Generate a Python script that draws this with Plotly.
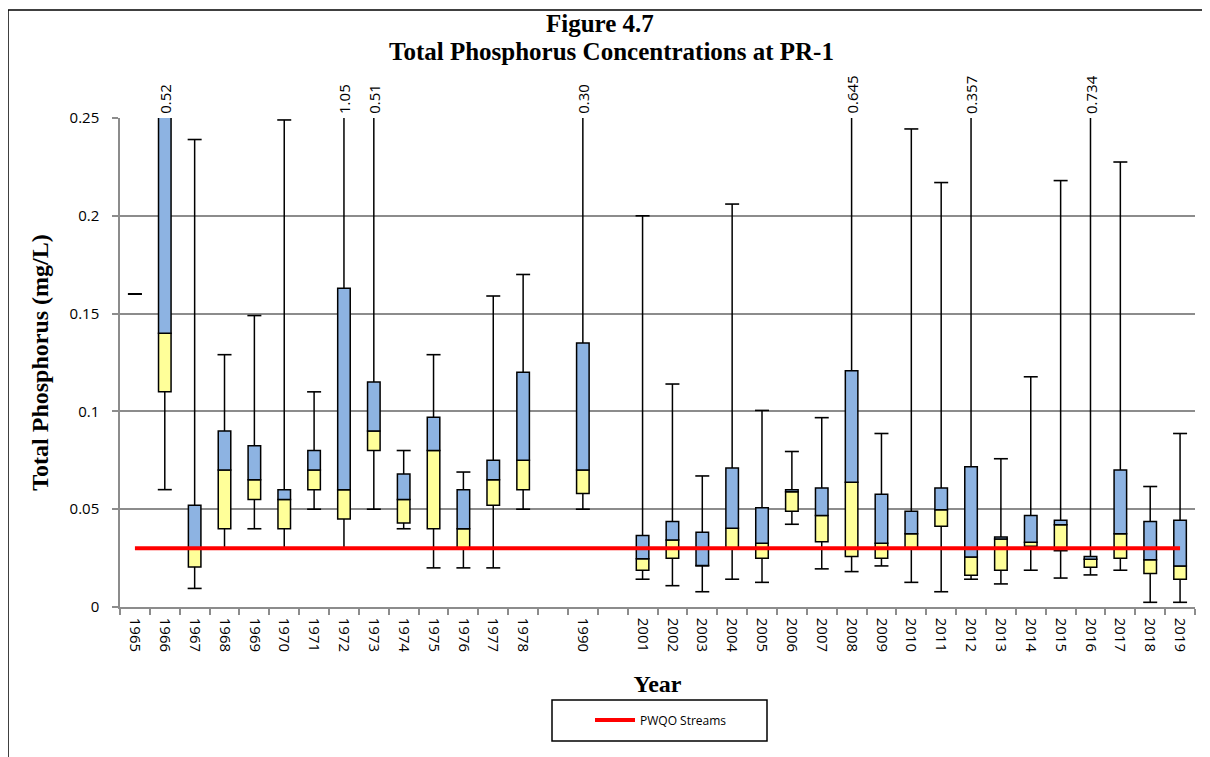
import plotly.graph_objects as go

# ---------------- data ----------------
years = ["1965", "1966", "1967", "1968", "1969", "1970", "1971", "1972", "1973",
         "1974", "1975", "1976", "1977", "1978", "1990",
         "2001", "2002", "2003", "2004", "2005", "2006", "2007", "2008", "2009",
         "2010", "2011", "2012", "2013", "2014", "2015", "2016", "2017", "2018", "2019"]
gap_after = ["1978", "1990"]  # one empty category follows each of these

mins = [0.160, 0.060, 0.0095, 0.030, 0.040, 0.030, 0.050, 0.030, 0.050,
        0.040, 0.020, 0.020, 0.020, 0.050, 0.050,
        0.0142, 0.0109, 0.0078, 0.0142, 0.0126, 0.0423, 0.0195, 0.0181, 0.0210,
        0.0126, 0.0078, 0.0142, 0.0118, 0.0188, 0.0148, 0.0164, 0.0188, 0.0024, 0.0024]
q1s = [0.160, 0.110, 0.0205, 0.040, 0.055, 0.040, 0.060, 0.045, 0.080,
       0.043, 0.040, 0.030, 0.052, 0.060, 0.058,
       0.0188, 0.0249, 0.0210, 0.0300, 0.0249, 0.0490, 0.0334, 0.0258, 0.0249,
       0.0300, 0.0413, 0.0162, 0.0188, 0.0310, 0.0288, 0.0203, 0.0249, 0.0171, 0.0142]
medians = [0.160, 0.140, 0.030, 0.070, 0.065, 0.055, 0.070, 0.060, 0.090,
           0.055, 0.080, 0.040, 0.065, 0.075, 0.070,
           0.0247, 0.0343, 0.0212, 0.0403, 0.0326, 0.0589, 0.0468, 0.0638, 0.0326,
           0.0375, 0.0497, 0.0256, 0.0348, 0.0331, 0.0421, 0.0244, 0.0375, 0.0241, 0.0210]
q3s = [0.160, 0.260, 0.052, 0.090, 0.0825, 0.060, 0.080, 0.163, 0.115,
       0.068, 0.097, 0.060, 0.075, 0.120, 0.135,
       0.0365, 0.0437, 0.0382, 0.0710, 0.0507, 0.0600, 0.0609, 0.1208, 0.0577,
       0.0490, 0.0609, 0.0717, 0.0358, 0.0468, 0.0444, 0.0258, 0.0701, 0.0437, 0.0444]
maxs = [0.160, 0.52, 0.239, 0.129, 0.149, 0.249, 0.110, 1.05, 0.51,
        0.080, 0.129, 0.069, 0.159, 0.170, 0.30,
        0.200, 0.114, 0.067, 0.206, 0.1005, 0.0795, 0.0968, 0.645, 0.0887,
        0.2444, 0.217, 0.357, 0.0758, 0.1177, 0.218, 0.734, 0.2275, 0.0616, 0.0887]
# labels printed above the chart for maxima beyond the axis range
over_labels = {"1966": "0.52", "1972": "1.05", "1973": "0.51", "1990": "0.30",
               "2008": "0.645", "2012": "0.357", "2016": "0.734"}

pwqo_value = 0.03
y_max = 0.25
y_ticks = [0, 0.05, 0.1, 0.15, 0.2, 0.25]
y_ticktext = ["0", "0.05", "0.1", "0.15", "0.2", "0.25"]

# ---------------- category positions ----------------
pos = []
i = 0
for yr in years:
    pos.append(i)
    i += 1
    if yr in gap_after:
        i += 1
n_slots = i
boundaries = [k - 0.5 for k in range(n_slots + 1)]

BLUE = "#8DB3E2"
YELLOW = "#FFFF99"
BOX_W = 0.42


# helpers mapping reference-pixel layout positions to paper coordinates
def px(X):
    return (X - 120) / 1075


def py(Y):
    return (607 - Y) / 489


fig = go.Figure()

# whiskers
wx, wy = [], []
for p, mn, a, c, mx in zip(pos, mins, q1s, q3s, maxs):
    wx += [p, p, None, p, p, None]
    wy += [mn, a, None, c, mx, None]
fig.add_trace(go.Scatter(x=wx, y=wy, mode="lines", line=dict(color="black", width=1.5),
                         showlegend=False, hoverinfo="skip"))

# caps
cx, cy = [], []
for p, mn, mx in zip(pos, mins, maxs):
    cx.append(p); cy.append(mn)
    if mx <= y_max:
        cx.append(p); cy.append(mx)
fig.add_trace(go.Scatter(x=cx, y=cy, mode="markers",
                         marker=dict(symbol="line-ew", size=10,
                                     line=dict(color="black", width=1.6)),
                         showlegend=False, hoverinfo="skip"))

# lower box (Q1 -> median)
fig.add_trace(go.Bar(x=pos, y=[m - a for m, a in zip(medians, q1s)], base=q1s,
                     width=BOX_W, marker=dict(color=YELLOW, line=dict(color="black", width=1.5)),
                     showlegend=False, hoverinfo="skip"))
# upper box (median -> Q3)
fig.add_trace(go.Bar(x=pos, y=[c - m for c, m in zip(q3s, medians)], base=medians,
                     width=BOX_W, marker=dict(color=BLUE, line=dict(color="black", width=1.5)),
                     showlegend=False, hoverinfo="skip"))

# PWQO line
fig.add_trace(go.Scatter(x=[pos[0], pos[-1]], y=[pwqo_value, pwqo_value], mode="lines",
                         line=dict(color="#FF0000", width=4), name="PWQO Streams"))

annotations = []
for yr, p in zip(years, pos):
    if yr in over_labels:
        annotations.append(dict(x=p, y=y_max, xref="x", yref="y", text=over_labels[yr],
                                showarrow=False, textangle=-90, yanchor="bottom",
                                xanchor="center", yshift=2,
                                font=dict(family="Open Sans", size=15, color="black")))

title_font = dict(family="Liberation Serif", size=25, color="black")
annotations.append(dict(x=px(600), y=py(24), xref="paper", yref="paper",
                        text="<b>Figure 4.7</b>", showarrow=False,
                        xanchor="center", yanchor="middle", font=title_font))
annotations.append(dict(x=px(611), y=py(51), xref="paper", yref="paper",
                        text="<b>Total Phosphorus Concentrations at PR-1</b>", showarrow=False,
                        xanchor="center", yanchor="middle", font=title_font))

fig.update_layout(
    width=1202, height=749,
    margin=dict(l=112, r=15, t=110, b=150),
    paper_bgcolor="white", plot_bgcolor="white",
    barmode="overlay",
    xaxis=dict(range=[-0.5, n_slots - 0.5], tickmode="array", tickvals=pos, ticktext=years,
               tickangle=90, ticks="", showgrid=False, zeroline=False,
               showline=True, linecolor="#8c8c8c", linewidth=1.5,
               ticklabelstandoff=6,
               tickfont=dict(family="Open Sans", size=15, color="black"),
               minor=dict(tickmode="array", tickvals=boundaries, ticks="outside",
                          ticklen=6, tickcolor="#8c8c8c", tickwidth=1.5, showgrid=False),
               title=dict(text="<b>Year</b>", standoff=24,
                          font=dict(family="Liberation Serif", size=24, color="black"))),
    yaxis=dict(range=[0, y_max], tickmode="array", tickvals=y_ticks, ticktext=y_ticktext,
               ticks="outside", ticklen=6, tickcolor="#8c8c8c", tickwidth=1.5,
               ticklabelstandoff=10,
               showgrid=True, gridcolor="#8c8c8c", gridwidth=1.5, zeroline=False,
               showline=True, linecolor="#8c8c8c", linewidth=1.5,
               tickfont=dict(family="Open Sans", size=15, color="black"),
               title=dict(text="<b>Total Phosphorus (mg/L)</b>", standoff=14,
                          font=dict(family="Liberation Serif", size=24, color="black"))),
    legend=dict(x=px(590), xanchor="left", y=py(720), yanchor="middle",
                bgcolor="rgba(0,0,0,0)", borderwidth=0, itemwidth=40,
                font=dict(family="Open Sans", size=12, color="black")),
    showlegend=True,
    annotations=annotations,
    shapes=[
        # legend frame
        dict(type="rect", xref="paper", yref="paper",
             x0=px(552), x1=px(767), y0=py(741), y1=py(700),
             line=dict(color="black", width=1.5), fillcolor="rgba(0,0,0,0)", layer="below"),
        # outer chart frame (left and top edges visible)
        dict(type="line", xref="paper", yref="paper",
             x0=px(8), x1=px(8), y0=py(800), y1=py(10),
             line=dict(color="black", width=1.5)),
        dict(type="line", xref="paper", yref="paper",
             x0=px(8), x1=px(1260), y0=py(10), y1=py(10),
             line=dict(color="black", width=1.5)),
    ],
)

fig.write_html("out.html")
